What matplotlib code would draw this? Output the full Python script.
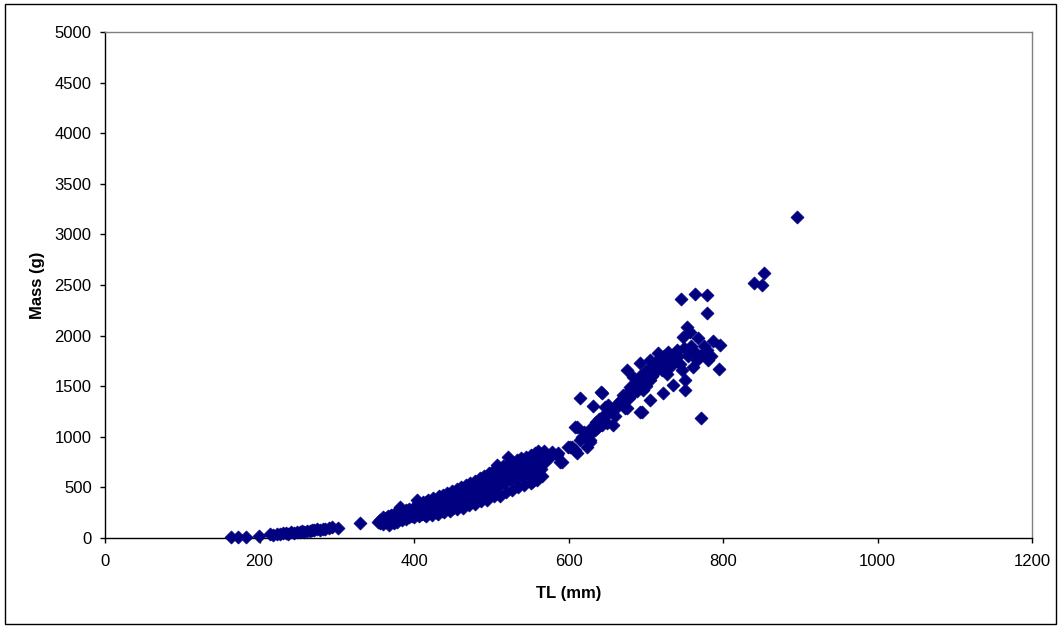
import matplotlib.pyplot as plt
from matplotlib.patches import Rectangle

plt.rcParams['font.family'] = ['Liberation Sans', 'DejaVu Sans']

# Total length (mm) and mass (g) of each fish, small fish first
tl_small = [163, 172, 182, 199, 214, 218, 222, 226, 230, 234, 237, 241, 245, 248,
            252, 255, 258, 262, 265, 268, 271, 275, 278, 282, 285, 290, 294, 302,
            330, 353]
mass_small = [10, 12, 14, 22, 35, 30, 42, 38, 45, 50, 44, 55, 52, 60,
              58, 66, 62, 72, 68, 78, 75, 84, 80, 92, 88, 98, 104, 100,
              148, 158]

# bulk of the sample, 355-570 mm
tl_mid = [356, 356, 358, 360, 360, 360, 362, 364, 364, 366, 366, 368, 368, 370, 370,
          372, 372, 374, 374, 376, 376, 378, 378, 380, 380, 380, 382, 382, 384, 384,
          386, 386, 388, 388, 390, 390, 390, 392, 392, 394, 394, 396, 396, 398, 398,
          400, 400, 400, 400, 402, 402, 404, 404, 404, 406, 406, 408, 408, 410, 410,
          410, 412, 412, 414, 414, 416, 416, 416, 418, 418, 420, 420, 420, 422, 422,
          424, 424, 426, 426, 428, 428, 428, 430, 430, 430, 430, 432, 432, 434, 434,
          436, 436, 436, 438, 438, 440, 440, 440, 440, 442, 442, 444, 444, 446, 446,
          446, 448, 448, 450, 450, 450, 450, 452, 452, 454, 454, 456, 456, 456, 458,
          458, 460, 460, 460, 460, 462, 462, 464, 464, 464, 466, 466, 468, 468, 468,
          470, 470, 470, 472, 472, 472, 474, 474, 476, 476, 476, 478, 478, 480, 480,
          480, 480, 482, 482, 484, 484, 486, 486, 486, 488, 488, 490, 490, 490, 490,
          492, 492, 494, 494, 496, 496, 496, 498, 498, 500, 500, 500, 500, 502, 502,
          504, 504, 506, 506, 506, 507, 508, 508, 510, 510, 510, 512, 512, 514, 514,
          516, 516, 518, 518, 520, 520, 520, 522, 522, 524, 524, 526, 526, 528, 528,
          528, 530, 530, 532, 532, 534, 534, 534, 536, 536, 538, 538, 540, 540, 540,
          542, 542, 544, 544, 546, 546, 548, 548, 548, 550, 550, 552, 552, 554, 554,
          554, 556, 556, 558, 558, 560, 560, 560, 562, 562, 564, 564, 566, 566, 568,
          568, 570]
mass_mid = [150, 180, 165, 140, 190, 205, 170, 155, 200, 180, 215, 130, 195, 160, 225,
            185, 210, 150, 240, 200, 175, 225, 160, 190, 250, 210, 305, 230, 175, 220,
            245, 200, 215, 265, 190, 240, 280, 225, 260, 205, 290, 250, 230, 275, 215,
            240, 300, 260, 210, 320, 250, 375, 235, 280, 265, 220, 295, 250, 240, 310,
            275, 330, 260, 285, 230, 305, 355, 250, 270, 320, 245, 340, 295, 310, 275,
            360, 260, 290, 325, 270, 345, 305, 250, 320, 290, 365, 340, 280, 300, 390,
            270, 330, 355, 310, 375, 285, 345, 410, 320, 300, 365, 330, 395, 290, 350,
            420, 370, 320, 300, 390, 345, 440, 360, 410, 325, 380, 395, 345, 450, 370,
            420, 330, 400, 360, 470, 385, 430, 350, 415, 480, 395, 440, 360, 425, 500,
            410, 455, 380, 360, 445, 395, 480, 420, 390, 460, 520, 430, 495, 400, 470,
            445, 540, 460, 510, 420, 490, 470, 545, 440, 500, 455, 430, 520, 480, 580,
            470, 540, 500, 455, 530, 600, 485, 460, 515, 490, 560, 530, 640, 510, 590,
            545, 480, 580, 520, 650, 720, 555, 610, 520, 590, 560, 625, 540, 580, 660,
            550, 610, 640, 590, 560, 620, 690, 800, 600, 650, 580, 620, 700, 590, 670,
            640, 720, 610, 660, 580, 700, 640, 760, 610, 680, 730, 650, 620, 700, 680,
            760, 650, 690, 620, 740, 700, 660, 780, 720, 690, 740, 620, 760, 700, 800,
            560, 740, 670, 780, 720, 690, 860, 750, 800, 730, 760, 680, 820, 780, 740,
            860, 790]

# heavier and lighter fish at the same lengths
tl_spread = [405, 412, 418, 425, 432, 437, 443, 449, 455, 461, 467, 473, 479, 485,
             491, 497, 503, 509, 515, 521, 527, 533, 539, 545, 551, 557,
             415, 423, 431, 439, 447, 455, 463, 471, 479, 487, 495, 503, 511, 519,
             527, 535, 543, 551, 559, 566]
mass_spread = [345, 360, 380, 395, 410, 425, 445, 460, 480, 500, 520, 540, 565, 590,
               615, 640, 665, 690, 710, 735, 755, 775, 790, 805, 820, 840,
               215, 230, 235, 255, 265, 290, 300, 325, 335, 365, 375, 410, 415, 455,
               470, 500, 520, 545, 575, 610]

# larger fish, 575 mm and up
tl_large = [576, 579, 585, 586, 589, 592, 599, 602, 605, 608, 608, 611, 611, 615, 615,
            618, 620, 624, 624, 626, 628, 628, 630, 632, 634, 636, 637, 640, 642, 643,
            643, 645, 646, 647, 650, 651, 651, 655, 658, 660, 662, 664, 667, 670, 671,
            673, 674, 676, 676, 678, 680, 680, 682, 684, 685, 688, 690, 692, 693, 693,
            694, 695, 696, 697, 699, 700, 702, 703, 705, 705, 705, 706, 708, 710, 712,
            714, 716, 716, 718, 720, 721, 722, 724, 726, 728, 729, 731, 733, 735, 736,
            738, 740, 742, 744, 746, 747, 748, 749, 751, 751, 753, 755, 757, 759, 761,
            763, 764, 766, 768, 770, 772, 775, 779, 779, 779, 781, 784, 787, 795, 796,
            840, 851, 853, 896]
mass_large = [800, 850, 820, 840, 751, 751, 899, 899, 899, 870, 1097, 840, 1097, 968, 1383,
              1000, 1050, 899, 988, 1020, 949, 968, 1100, 1304, 1067, 1150, 1087, 1180, 1443, 1117,
              1433, 1196, 1220, 1294, 1136, 1235, 1314, 1250, 1117, 1206, 1280, 1334, 1350, 1320, 1413,
              1285, 1400, 1285, 1660, 1380, 1462, 1492, 1420, 1591, 1500, 1450, 1540, 1600, 1245, 1729,
              1520, 1245, 1462, 1580, 1640, 1500, 1660, 1620, 1364, 1561, 1759, 1680, 1600, 1700, 1640,
              1750, 1828, 1680, 1780, 1720, 1660, 1433, 1800, 1740, 1620, 1838, 1780, 1700, 1512, 1820,
              1760, 1858, 1800, 1720, 2362, 1660, 1986, 1880, 1462, 1561, 2085, 1800, 2036, 1900, 1690,
              1850, 2411, 1759, 1976, 1800, 1186, 1900, 2401, 2223, 1858, 1759, 1800, 1947, 1670, 1907,
              2520, 2500, 2619, 3172]

tl = tl_small + tl_mid + tl_spread + tl_large
mass = mass_small + mass_mid + mass_spread + mass_large

fig = plt.figure(figsize=(10.6, 6.26), dpi=100)
ax = fig.add_axes([0.0991, 0.1406, 0.8745, 0.8083])

ax.scatter(tl, mass, marker='D', s=44, color='#000080', edgecolors='#000080',
           linewidths=0.5, zorder=3, clip_on=False)

ax.set_xlim(0, 1200)
ax.set_ylim(0, 5000)
ax.set_xticks(range(0, 1201, 200))
ax.set_yticks(range(0, 5001, 500))
ax.tick_params(axis='both', direction='out', length=3.6, width=1, labelsize=12,
               colors='black')
ax.tick_params(axis='x', pad=8)
ax.tick_params(axis='y', pad=6)

for side in ('left', 'bottom'):
    ax.spines[side].set_color('black')
    ax.spines[side].set_linewidth(1)
for side in ('top', 'right'):
    ax.spines[side].set_color('#808080')
    ax.spines[side].set_linewidth(1)

ax.set_xlabel('TL (mm)', fontsize=12, fontweight='bold', labelpad=12)
ax.set_ylabel('Mass (g)', fontsize=12, fontweight='bold', labelpad=7)

# chart area frame
fig.patches.append(Rectangle((0.0047, 0.0032), 0.9915, 0.9904, transform=fig.transFigure,
                             fill=False, edgecolor='black', linewidth=1))

fig.savefig('out.png', dpi=100)
